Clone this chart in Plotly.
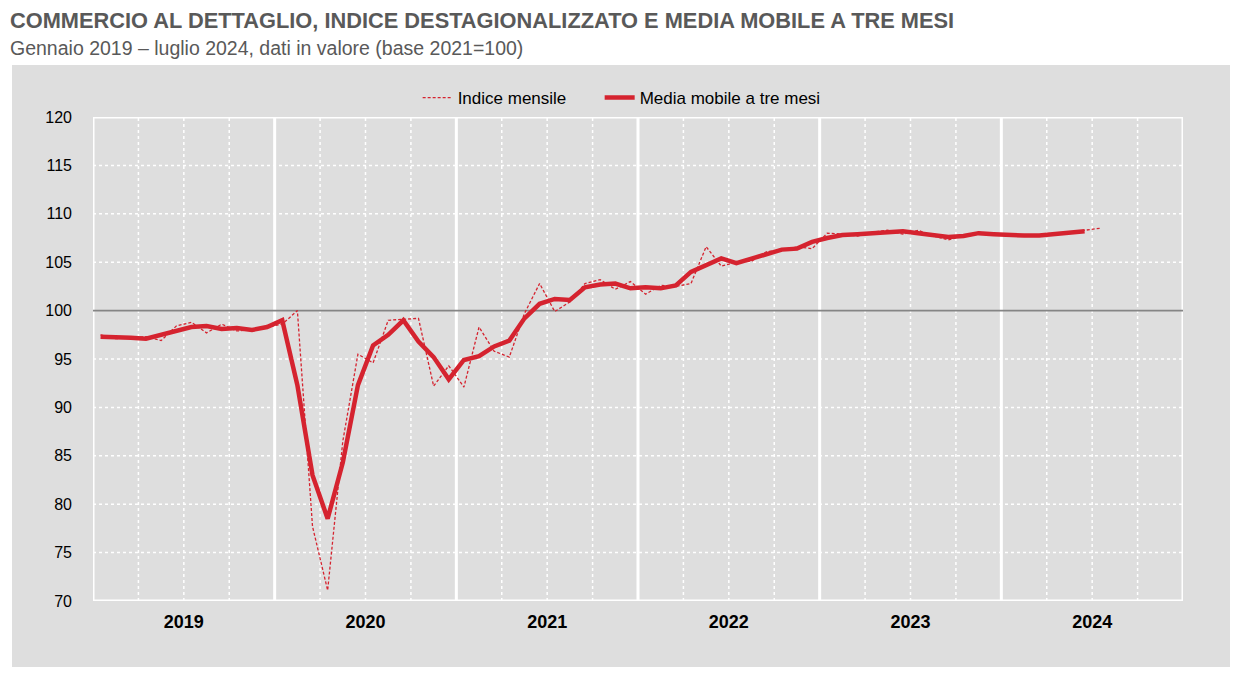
import plotly.graph_objects as go

# ---- data ----
months = [f"{y}-{m:02d}" for y in range(2019, 2025) for m in range(1, 13)]
years = ["2019", "2020", "2021", "2022", "2023", "2024"]

indice_mensile = [
    # 2019
    97.5, 97.1, 97.2, 97.3, 96.9, 98.4, 98.8, 97.7, 98.6, 97.9, 98.0, 98.3,
    # 2020
    98.6, 100.0, 77.7, 71.1, 86.5, 95.5, 94.6, 99.0, 99.1, 99.2, 92.2, 94.3,
    # 2021
    92.1, 98.3, 95.8, 95.2, 99.7, 102.8, 99.9, 100.9, 102.8, 103.2, 102.2, 103.0,
    # 2022
    101.7, 102.6, 102.5, 102.8, 106.6, 104.6, 105.0, 105.1, 106.1, 106.2, 106.6, 106.4,
    # 2023
    108.0, 107.9, 107.7, 108.1, 108.3, 107.9, 108.3, 107.7, 107.3, 107.7, 108.1, 107.9,
    # 2024 (gen-lug)
    107.7, 107.8, 107.7, 107.9, 108.1, 108.3, 108.5,
]

media_mobile = [
    # 2019
    97.3, 97.3, 97.2, 97.1, 97.5, 98.0, 98.3, 98.4, 98.1, 98.2, 98.0, 98.3,
    # 2020
    99.0, 92.3, 83.0, 78.5, 84.3, 92.3, 96.4, 97.5, 99.0, 96.8, 95.2, 92.9,
    # 2021
    94.9, 95.3, 96.3, 96.9, 99.2, 100.7, 101.2, 101.1, 102.4, 102.7, 102.8, 102.3,
    # 2022
    102.4, 102.3, 102.6, 104.0, 104.7, 105.4, 104.9, 105.4, 105.8, 106.3, 106.4, 107.1,
    # 2023
    107.5, 107.8, 107.9, 108.0, 108.1, 108.2, 108.0, 107.8, 107.6, 107.7, 108.0, 107.9,
    # 2024 (gen-giu)
    107.8, 107.75, 107.75, 107.9, 108.05, 108.2,
]

y_ticks = [70, 75, 80, 85, 90, 95, 100, 105, 110, 115, 120]

RED = "#d5232f"
FONT = "Liberation Sans, Arial, sans-serif"

x_idx = list(range(len(months)))
n_months = len(months)

# figure is 1224x659 so that, with the page's 8px body margin, it fills 1240x675
L, T, PW, PH = 85, 109, 1090, 484
W, H = 1224, 659

fig = go.Figure()
fig.add_trace(go.Scatter(
    x=x_idx[:len(indice_mensile)], y=indice_mensile, mode="lines",
    name="Indice mensile" + "\u00a0" * 6, line=dict(color=RED, width=1.3, dash="3px,2px"),
))
fig.add_trace(go.Scatter(
    x=x_idx[:len(media_mobile)], y=media_mobile, mode="lines",
    name="Media mobile a tre mesi", line=dict(color=RED, width=4.5),
))

shapes = []
# grey panel behind everything
shapes.append(dict(type="rect", xref="paper", yref="paper",
                   x0=(4 - L) / PW, x1=(1222 - L) / PW,
                   y0=-(H + 1 - T - PH) / PH, y1=1 + (T - 57) / PH,
                   fillcolor="#dedede", line=dict(width=0), layer="below"))
# horizontal dotted grid
for yy in y_ticks[1:-1]:
    if yy == 100:
        continue
    shapes.append(dict(type="line", xref="x domain", yref="y", x0=0, x1=1, y0=yy, y1=yy,
                       line=dict(color="white", width=1.5, dash="dot"), layer="below"))
# vertical grid lines: quarters dotted
for q in range(1, n_months // 3):
    if q % 4 != 0:
        xq = q * 3 - 0.5
        shapes.append(dict(type="line", xref="x", yref="y domain", x0=xq, x1=xq, y0=0, y1=1,
                           line=dict(color="white", width=1.5, dash="dot"), layer="below"))
# years solid + frame
for k in range(0, n_months // 12 + 1):
    xx = k * 12 - 0.5
    shapes.append(dict(type="line", xref="x", yref="y domain", x0=xx, x1=xx, y0=0, y1=1,
                       line=dict(color="white", width=3), layer="below"))
for yy in (70, 120):
    shapes.append(dict(type="line", xref="x domain", yref="y", x0=0, x1=1, y0=yy, y1=yy,
                       line=dict(color="white", width=3), layer="below"))
# 100 reference line
shapes.append(dict(type="line", xref="x domain", yref="y", x0=0, x1=1, y0=100, y1=100,
                   line=dict(color="#858585", width=1.6), layer="below"))

fig.update_layout(
    width=W, height=H,
    margin=dict(l=L, r=W - L - PW, t=T, b=H - T - PH),
    paper_bgcolor="white", plot_bgcolor="#dedede",
    font=dict(family=FONT, color="black", size=16),
    shapes=shapes,
    showlegend=True,
    legend=dict(orientation="h", x=0.485, xanchor="center", y=1 + 19 / PH, yanchor="middle",
                bgcolor="rgba(0,0,0,0)", font=dict(size=17, family=FONT)),
    annotations=[
        dict(text="<b>COMMERCIO AL DETTAGLIO, INDICE DESTAGIONALIZZATO E MEDIA MOBILE A TRE MESI</b>",
             xref="paper", yref="paper", x=-L / PW, y=1 + (T - 12) / PH, xanchor="left", yanchor="middle",
             showarrow=False, font=dict(size=21.8, color="#595959", family=FONT)),
        dict(text="Gennaio 2019 – luglio 2024, dati in valore (base 2021=100)",
             xref="paper", yref="paper", x=-L / PW, y=1 + (T - 40) / PH, xanchor="left", yanchor="middle",
             showarrow=False, font=dict(size=19.5, color="#595959", family=FONT)),
    ],
)
fig.update_xaxes(
    range=[-0.5, n_months - 0.5], showgrid=False, zeroline=False, showline=False,
    tickmode="array", tickvals=[i * 12 + 5.5 for i in range(len(years))],
    ticktext=[f"<b>{y}</b>" for y in years], ticks="", tickfont=dict(size=18, color="black"),
    ticklabelstandoff=8,
)
fig.update_yaxes(
    range=[70, 120], tickmode="array", tickvals=y_ticks, ticks="",
    showgrid=False, zeroline=False, showline=False,
    tickfont=dict(size=16, color="black"), ticklabelstandoff=20,
)
fig.write_html("out.html")
